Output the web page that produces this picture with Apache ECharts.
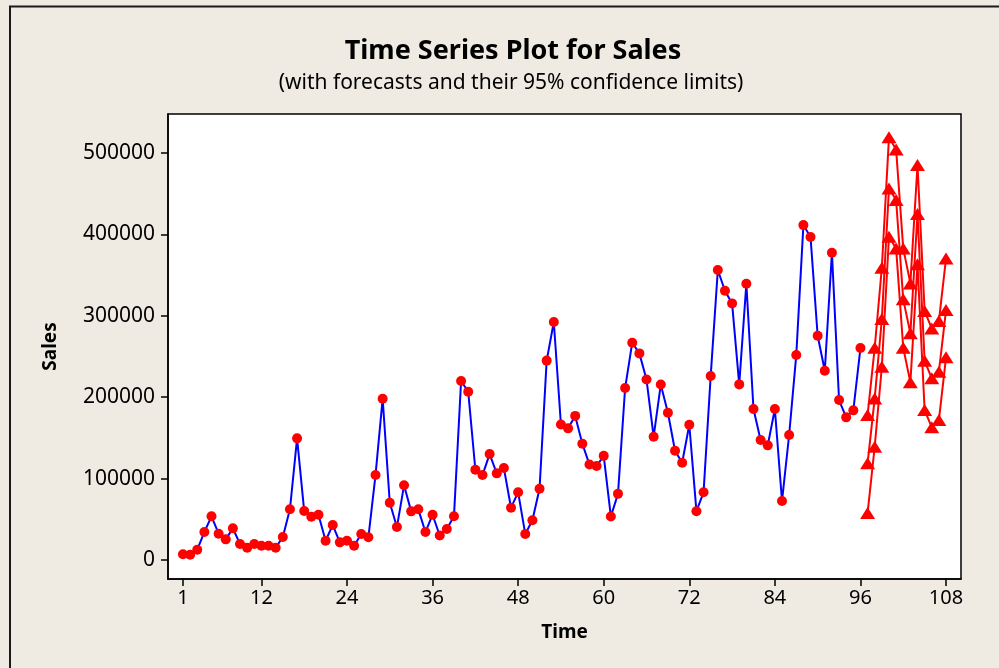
<!DOCTYPE html>
<html>
<head>
<meta charset="utf-8">
<style>
  html, body { margin: 0; padding: 0; background: #efebe2; }
  #chart { width: 999px; height: 668px; }
</style>
<script src="https://cdn.jsdelivr.net/npm/echarts@6/dist/echarts.min.js"></script>
</head>
<body>
<div id="chart"></div>
<script>
// Monthly sales, periods 1..96
const sales = [
  7000, 6500, 12700, 34400, 53700, 32300, 25400, 38900, 19700, 15100, 19700, 17600,
  17600, 15100, 28300, 62300, 149500, 60200, 53200, 55700, 23700, 43000, 21700, 23700,
  17600, 31900, 27900, 104400, 198200, 70400, 40500, 91800, 59800, 62300, 34400, 55700,
  30100, 38100, 53700, 219900, 206800, 110900, 104400, 130200, 106500, 113000, 64300, 83200,
  31900, 48800, 87600, 245000, 292400, 166500, 161800, 177100, 142900, 117300, 115500, 128000,
  53500, 81300, 211300, 267000, 253900, 221800, 151500, 215600, 181000, 134300, 119500, 166200,
  60000, 83200, 226200, 356300, 330800, 315300, 215800, 339400, 185500, 147400, 140900, 185500,
  72500, 153600, 251800, 411500, 396800, 275600, 232600, 377500, 196600, 175300, 183900, 260400
];

// Forecasts for periods 97..108 with 95% limits
const forecast = [118800, 198600, 296100, 456600, 442300, 320300, 278500, 425100, 244800, 223200, 231300, 307100];
const lower    = [57700, 139200, 237500, 397200, 382900, 260800, 218300, 363300, 184300, 163000, 172000, 249000];
const upper    = [178100, 260800, 359100, 519300, 504500, 382900, 339900, 485300, 305900, 284600, 293600, 370600];

const timeTicks  = [1, 12, 24, 36, 48, 60, 72, 84, 96, 108];
const salesTicks = [0, 100000, 200000, 300000, 400000, 500000];

const firstForecast = sales.length + 1;
const toPairs = (arr, start) => arr.map((v, i) => [start + i, v]);

const FONT = 'Noto Sans';

const redLine = (name, arr) => ({
  name: name,
  type: 'line',
  data: toPairs(arr, firstForecast),
  symbol: 'triangle',
  symbolSize: [15, 12],
  lineStyle: { color: '#ff0000', width: 2 },
  itemStyle: { color: '#ff0000' },
  z: 3,
  animation: false
});

const chart = echarts.init(document.getElementById('chart'), null, { renderer: 'canvas' });

chart.setOption({
  backgroundColor: '#efebe2',
  animation: false,
  title: [
    {
      text: 'Time Series Plot for Sales',
      left: 508, top: 33, textAlign: 'center',
      textStyle: { fontFamily: FONT, fontWeight: 'bold', fontSize: 27, color: '#000' }
    },
    {
      text: '(with forecasts and their 95% confidence limits)',
      left: 506, top: 68, textAlign: 'center',
      textStyle: { fontFamily: FONT, fontWeight: 'normal', fontSize: 21, color: '#000' }
    }
  ],
  graphic: [
    { type: 'line', shape: { x1: 9, y1: 6.5, x2: 999, y2: 6.5 }, style: { stroke: '#1a1a1a', lineWidth: 2 } },
    { type: 'line', shape: { x1: 10, y1: 6, x2: 10, y2: 668 }, style: { stroke: '#1a1a1a', lineWidth: 2 } }
  ],
  grid: {
    left: 168, top: 114, right: 38, bottom: 89,
    show: true, backgroundColor: '#ffffff', borderColor: '#000', borderWidth: 1.5
  },
  xAxis: {
    type: 'value',
    min: -1.1, max: 110.1,
    name: 'Time', nameLocation: 'middle', nameGap: 44,
    nameTextStyle: { fontFamily: FONT, fontWeight: 'bold', fontSize: 19, color: '#000' },
    axisLine: { show: true, onZero: false, lineStyle: { color: '#000', width: 1.5 } },
    axisTick: { show: true, length: 7, customValues: timeTicks, lineStyle: { color: '#000', width: 1.5 } },
    axisLabel: { customValues: timeTicks, fontFamily: FONT, fontSize: 20, color: '#000', margin: 9 },
    splitLine: { show: false }
  },
  yAxis: {
    type: 'value',
    min: -23300, max: 548000,
    name: 'Sales', nameLocation: 'middle', nameGap: 108, nameRotate: 90,
    nameTextStyle: { fontFamily: FONT, fontWeight: 'bold', fontSize: 19, color: '#000' },
    axisLine: { show: true, onZero: false, lineStyle: { color: '#000', width: 1.5 } },
    axisTick: { show: true, length: 7, customValues: salesTicks, lineStyle: { color: '#000', width: 1.5 } },
    axisLabel: {
      customValues: salesTicks, fontFamily: FONT, fontSize: 21, color: '#000', margin: 13,
      formatter: v => String(v)
    },
    splitLine: { show: false }
  },
  series: [
    {
      name: 'Sales',
      type: 'line',
      data: toPairs(sales, 1),
      symbol: 'circle',
      symbolSize: 10,
      lineStyle: { color: '#0000ff', width: 2 },
      itemStyle: { color: '#ff0000' },
      z: 2,
      animation: false
    },
    redLine('Forecast', forecast),
    redLine('Lower', lower),
    redLine('Upper', upper)
  ]
});
</script>
</body>
</html>
